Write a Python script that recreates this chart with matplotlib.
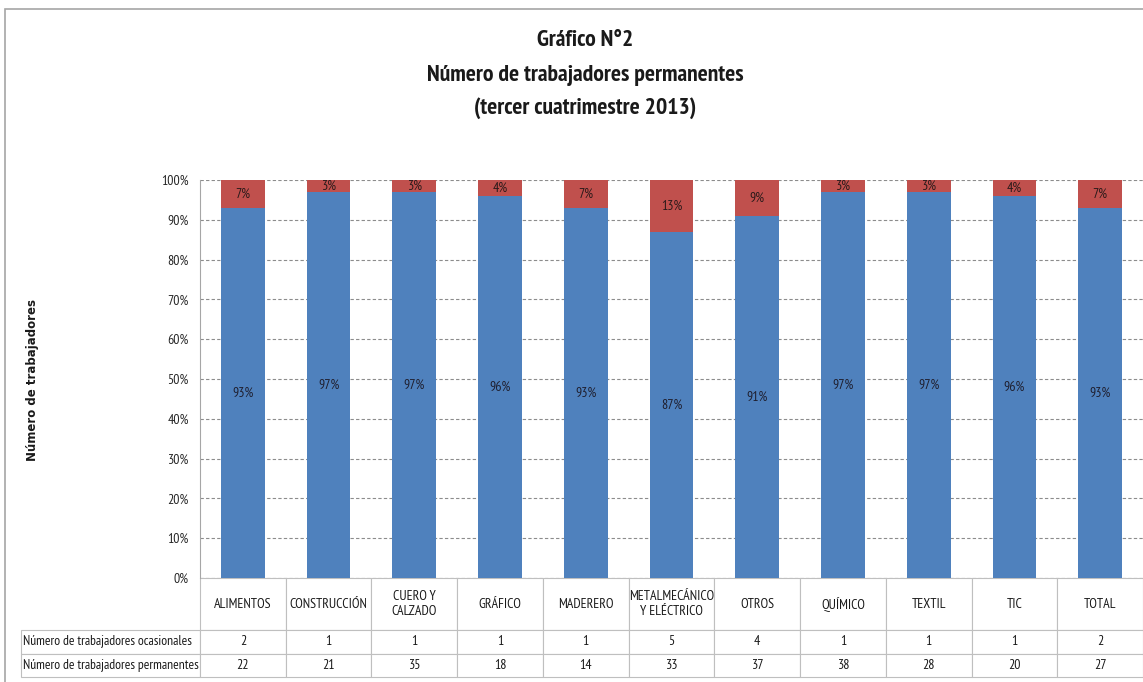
import matplotlib
matplotlib.use("Agg")
import matplotlib.pyplot as plt
from matplotlib.patches import Rectangle
import numpy as np

categories = ["ALIMENTOS", "CONSTRUCCIÓN", "CUERO Y\nCALZADO", "GRÁFICO", "MADERERO",
              "METALMECÁNICO\nY ELÉCTRICO", "OTROS", "QUÍMICO", "TEXTIL", "TIC", "TOTAL"]
pct_permanentes = [93, 97, 97, 96, 93, 87, 91, 97, 97, 96, 93]
pct_ocasionales = [7, 3, 3, 4, 7, 13, 9, 3, 3, 4, 7]
n_ocasionales = [2, 1, 1, 1, 1, 5, 4, 1, 1, 1, 2]
n_permanentes = [22, 21, 35, 18, 14, 33, 37, 38, 28, 20, 27]
row_labels = ["Número de trabajadores ocasionales", "Número de trabajadores permanentes"]
y_ticks = [0, 10, 20, 30, 40, 50, 60, 70, 80, 90, 100]

NARROW = ["PT Sans Narrow", "DejaVu Sans"]
BLUE = "#4F81BD"
RED = "#C0504D"

W, H = 1143, 682
fig = plt.figure(figsize=(W / 100, H / 100), dpi=100)
fig.patch.set_facecolor("white")

# outer frame
fig.add_artist(Rectangle((5 / W, -0.1), 1.2, 1 - 9 / H + 0.1, transform=fig.transFigure,
                         fill=False, edgecolor="#A6A6A6", linewidth=1.2))

ax = fig.add_axes([200 / W, 1 - 578 / H, 943 / W, 398 / H])
x = np.arange(len(categories))
perm = np.array(pct_permanentes) / 100
ocas = np.array(pct_ocasionales) / 100
bw = 0.51
ax.bar(x, perm, bw, color=BLUE, zorder=3)
ax.bar(x, ocas, bw, bottom=perm, color=RED, zorder=3)

for i in range(len(categories)):
    ax.text(x[i], perm[i] / 2, f"{pct_permanentes[i]}%", ha="center", va="center",
            fontsize=10, family=NARROW, color="#1F1F2F", zorder=4)
    ax.text(x[i], perm[i] + ocas[i] / 2, f"{pct_ocasionales[i]}%", ha="center", va="center",
            fontsize=10, family=NARROW, color="#2A1A1A", zorder=4)

ax.set_xlim(-0.5, len(categories) - 0.5)
ax.set_ylim(0, 1)
ax.set_yticks([v / 100 for v in y_ticks])
ax.set_yticklabels([f"{v}%" for v in y_ticks], family=NARROW, fontsize=10, color="#262626")
ax.tick_params(axis="y", length=0, pad=8)
ax.set_xticks([])
ax.yaxis.grid(True, linestyle=(0, (3, 2)), color="#8C8C8C", linewidth=0.8, zorder=0)
for s in ["top", "right", "bottom"]:
    ax.spines[s].set_visible(False)
ax.spines["left"].set_color("#A6A6A6")

# data table
cell_text = [[str(v) for v in n_ocasionales], [str(v) for v in n_permanentes]]
tb = ax.table(cellText=cell_text, rowLabels=row_labels, colLabels=categories,
              cellLoc="center", rowLoc="left",
              bbox=[0, -99 / 398, 1, 99 / 398])
tb.auto_set_font_size(False)
for (r, c), cell in tb.get_celld().items():
    cell.set_edgecolor("#BFBFBF")
    cell.set_linewidth(0.8)
    cell.get_text().set_family(NARROW)
    cell.get_text().set_fontsize(9.7 if c == -1 else 10)
    cell.get_text().set_color("#1A1A1A")
    cell.set_width(178 / 943 if c == -1 else 1 / 11)
    cell.set_height(52 / 398 if r == 0 else 23.5 / 398)
    if c == -1:
        cell.PAD = 0.01

# y-axis label
fig.text(33 / W, 1 - 380 / H, "Número de trabajadores", rotation=90, ha="center", va="center",
         fontsize=8.5, fontweight="bold", family="DejaVu Sans", color="#1A1A1A")

# title
title_lines = ["Gráfico N°2", "Número de trabajadores permanentes", "(tercer cuatrimestre 2013)"]
for line, yy in zip(title_lines, [40, 75, 108]):
    fig.text(585 / W, 1 - yy / H, line, ha="center", va="center", fontsize=17,
             fontweight="bold", family=NARROW, color="#1A1A1A")

fig.savefig("out.png", dpi=100, facecolor="white")
